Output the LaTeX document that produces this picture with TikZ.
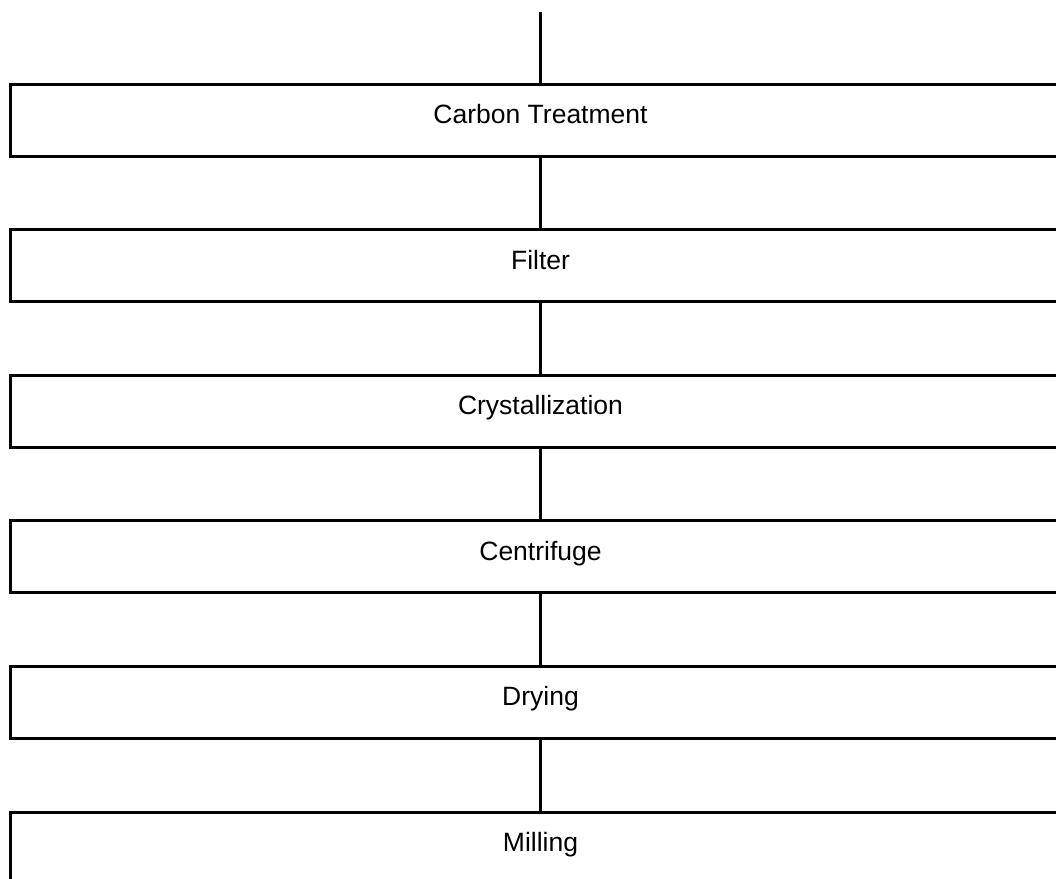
\documentclass[tikz,border=0pt]{standalone}
\usepackage{fontspec}
\setmainfont{Liberation Sans}
\usetikzlibrary{positioning}

\begin{document}
\begin{tikzpicture}[x=1pt, y=1pt, node distance=73.6pt, line width=3pt,
  stage/.style={draw, rectangle, outer sep=0pt, inner sep=0pt, minimum width=1060pt, minimum height=72pt, text height=19.5pt, text depth=12.4pt, font=\fontsize{26.5}{30}\selectfont}]
\clip (0,0) rectangle (1056,-878);
% feed line at the top
\coordinate (feed) at (540.5,-12);

% process stages
\node (carbon) [stage] at (540.5,-120) {Carbon Treatment};
\node (filter) [stage, below=of carbon] {Filter};
\node (cryst) [stage, below=of filter] {Crystallization};
\node (centri) [stage, below=of cryst] {Centrifuge};
\node (drying) [stage, below=of centri] {Drying};
\node (milling) [stage, below=of drying] {Milling};

% connecting lines
\draw (feed) -- (carbon);
\draw (carbon) -- (filter);
\draw (filter) -- (cryst);
\draw (cryst) -- (centri);
\draw (centri) -- (drying);
\draw (drying) -- (milling);
\end{tikzpicture}
\end{document}
